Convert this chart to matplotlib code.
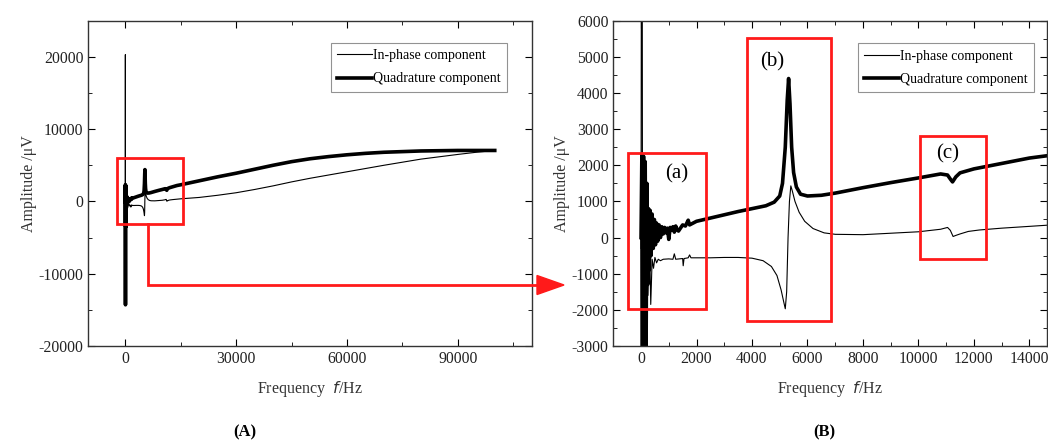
import matplotlib
matplotlib.use("Agg")
import matplotlib.pyplot as plt
from matplotlib.patches import Rectangle, Polygon
from matplotlib.lines import Line2D
from matplotlib.ticker import MultipleLocator

plt.rcParams['font.family'] = ['Liberation Serif', 'DejaVu Serif']
plt.rcParams['axes.unicode_minus'] = False

# In-phase component (thin line)
inphase_f = [0, 30, 60, 100, 150, 200, 250, 300, 350, 400, 450, 500, 560, 620, 700,
             800, 1000, 1150, 1200, 1250, 1500, 1520, 1550, 1700, 1750, 1800, 2500,
             3000, 3500, 4000, 4400, 4700, 4900, 5050, 5150, 5200, 5250, 5300, 5350,
             5400, 5450, 5550, 5700, 5900, 6200, 6600, 7000, 8000, 9000, 10000, 10800,
             11050, 11150, 11250, 11350, 11500, 11800, 12200, 13000, 14000, 15000,
             20000, 25000, 30000, 35000, 40000, 45000, 50000, 55000, 60000, 70000,
             80000, 90000, 95000, 100000]
inphase_v = [-300, 20300, -8000, 1500, -1200, 800, -1600, 200, -1850, -600, -850, -550,
             -700, -600, -640, -600, -590, -600, -450, -600, -580, -780, -580, -560,
             -480, -560, -560, -550, -550, -570, -640, -800, -1050, -1450, -1800, -1970,
             -1500, 0, 1000, 1430, 1300, 1000, 700, 450, 250, 130, 90, 80, 120, 160,
             230, 280, 200, 30, 60, 100, 170, 210, 260, 310, 360,
             550, 850, 1200, 1650, 2150, 2700, 3200, 3650, 4100, 5000,
             5850, 6500, 6800, 7050]

# Quadrature component (thick line)
quad_f = [0, 30, 60, 90, 120, 150, 180, 210, 240, 270, 300, 330, 360, 400, 440, 480,
          520, 560, 600, 650, 700, 750, 800, 850, 900, 950, 1000, 1050, 1100, 1150,
          1200, 1250, 1300, 1350, 1500, 1600, 1700, 1750, 2000, 2500, 3000, 3500, 4000,
          4500, 4800, 5000, 5100, 5200, 5270, 5320, 5370, 5430, 5500, 5600, 5750, 6000,
          6500, 7000, 8000, 9000, 10000, 10800, 11050, 11150, 11230, 11350, 11500,
          12000, 13000, 14000, 15000, 20000, 25000, 30000, 35000, 40000, 45000, 50000,
          55000, 60000, 65000, 70000, 80000, 90000, 100000]
quad_v = [0, 2300, -14300, 2250, -3500, 2100, -3500, 1500, -1300, 800, -900, 750, -500,
          650, -300, 500, -200, 400, -100, 350, 0, 300, 100, 280, 130, 260, -50, 280,
          200, 300, 150, 320, 220, 180, 350, 320, 480, 350, 450, 540, 630, 720, 800,
          880, 980, 1150, 1500, 2500, 3800, 4400, 3700, 2500, 1800, 1400, 1200, 1150,
          1170, 1230, 1380, 1520, 1650, 1760, 1730, 1620, 1540, 1680, 1790, 1900, 2050,
          2200, 2300, 2850, 3400, 3900, 4450, 5000, 5500, 5900,
          6200, 6450, 6650, 6800, 6980, 7050, 7050]

W, H = 1048, 448
fig = plt.figure(figsize=(W / 100, H / 100), dpi=100)

ax1 = fig.add_axes([88.3 / W, 1 - 346 / H, 443.4 / W, 325.3 / H])
ax2 = fig.add_axes([613.3 / W, 1 - 346 / H, 434.1 / W, 325.3 / H])


def style(ax):
    ax.plot(inphase_f, inphase_v, color='black', lw=0.8, label='In-phase component')
    ax.plot(quad_f, quad_v, color='black', lw=2.6, label='Quadrature component')
    ax.tick_params(which='both', direction='in', top=True, right=True,
                   labelsize=11.3, labelcolor='#222222')
    ax.tick_params(which='major', length=5)
    ax.tick_params(which='minor', length=3)
    for s in ax.spines.values():
        s.set_linewidth(1.0)
        s.set_color('#333333')
    ax.set_xlabel('Frequency  $\\it{f}$/Hz', fontsize=11.5, color='#333333', labelpad=9)
    ax.set_ylabel('Amplitude /\u03bcV', fontsize=11.5, color='#333333', labelpad=1)


def legend(ax, anchor):
    leg = ax.legend(loc='upper right', bbox_to_anchor=anchor, fontsize=10,
                    fancybox=False, edgecolor='#777777', handlelength=2.5,
                    borderpad=0.45, handletextpad=0.1, labelspacing=0.75,
                    borderaxespad=0)
    leg.get_frame().set_linewidth(0.8)


style(ax1)
ax1.set_xlim(-10000, 110000)
ax1.set_ylim(-20000, 25000)
ax1.xaxis.set_major_locator(MultipleLocator(30000))
ax1.xaxis.set_minor_locator(MultipleLocator(15000))
ax1.yaxis.set_major_locator(MultipleLocator(10000))
ax1.yaxis.set_minor_locator(MultipleLocator(5000))
legend(ax1, (0.945, 0.932))

style(ax2)
ax2.set_xlim(-1000, 14650)
ax2.set_ylim(-3000, 6000)
ax2.xaxis.set_major_locator(MultipleLocator(2000))
ax2.xaxis.set_minor_locator(MultipleLocator(1000))
ax2.yaxis.set_major_locator(MultipleLocator(1000))
ax2.yaxis.set_minor_locator(MultipleLocator(500))
legend(ax2, (0.969, 0.93))

red = '#ff1a1a'
# zoom box on the overview
ax1.add_patch(Rectangle((-2140, -3170), 17700, 9130, fill=False, ec=red, lw=2.0, zorder=5))

# boxes on the detail panel
boxes = [(-454, -1970, 2800, 4320), (3832, -2320, 3030, 7830), (10058, -600, 2390, 3410)]
for x0, y0, w, h in boxes:
    ax2.add_patch(Rectangle((x0, y0), w, h, fill=False, ec=red, lw=2.0, zorder=5))
ax2.text(1283, 1760, '(a)', fontsize=15, ha='center', va='center')
ax2.text(4740, 4850, '(b)', fontsize=15, ha='center', va='center')
ax2.text(11053, 2320, '(c)', fontsize=15, ha='center', va='center')


# connecting arrow in figure coordinates
def fx(px):
    return px / W


def fy(py):
    return 1 - py / H


fig.add_artist(Line2D([fx(148), fx(148), fx(540)], [fy(224), fy(285), fy(285)],
                      color=red, lw=2.0, solid_joinstyle='miter'))
fig.add_artist(Polygon([[fx(537), fy(275.5)], [fx(564), fy(285)], [fx(537), fy(294.5)]],
                       closed=True, color=red, transform=fig.transFigure))

fig.text(fx(245), fy(432), '(A)', fontsize=12, fontweight='bold', ha='center', va='center')
fig.text(fx(824), fy(432), '(B)', fontsize=12, fontweight='bold', ha='center', va='center')

fig.savefig('out.png', dpi=100)
